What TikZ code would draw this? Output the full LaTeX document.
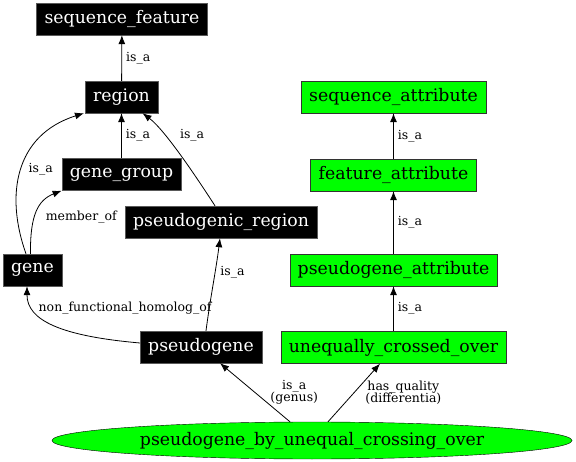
\documentclass[tikz,border=0pt]{standalone}
\usepackage{fontspec}
\setmainfont{DejaVu Serif}
\usepackage{tikz}
\usetikzlibrary{arrows.meta,shapes.geometric}

\begin{document}
\begin{tikzpicture}[x=1pt, y=-1pt,
		term/.style={rectangle, fill=black, draw=black!65, text=white, minimum height=32pt, inner xsep=8pt, inner ysep=0pt, font=\fontsize{17.3}{20}\selectfont},
		attr/.style={term, fill=green, draw=black!80, text=black},
		rel/.style={-{Latex[length=9pt, width=7pt]}, line width=0.8pt},
		lbl/.style={inner sep=1pt, font=\fontsize{12.5}{12.5}\selectfont, align=center}]
				\useasboundingbox (0,0) rectangle (576,462);
				% terms
				\node[term] (seqfeat) at (122,19) {sequence\_feature};
				\node[term] (region) at (121.5,97) {region};
				\node[term] (genegroup) at (121.5,174.5) {gene\_group};
				\node[term] (pseudoregion) at (221,222) {pseudogenic\_region};
				\node[term] (gene) at (32.5,270) {gene};
				\node[term] (pseudogene) at (201,347) {pseudogene};
				% attributes
				\node[attr] (seqattr) at (393.5,97) {sequence\_attribute};
				\node[attr] (featattr) at (393.5,175) {feature\_attribute};
				\node[attr] (pseudoattr) at (393.5,270) {pseudogene\_attribute};
				\node[attr] (unequal) at (393.5,347.5) {unequally\_crossed\_over};
				\node[ellipse, fill=green, draw=black, minimum width=520pt, minimum height=37pt, inner sep=0pt, font=\fontsize{17.3}{20}\selectfont] (bycross) at (312,440.5) {pseudogene\_by\_unequal\_crossing\_over};
				
				% is_a chains
				\draw[rel] (region) -- (seqfeat) node[lbl, midway, right=3pt]{is\_a};
				\draw[rel] (genegroup) -- (region) node[lbl, midway, right=3pt]{is\_a};
				\draw[rel] (featattr) -- (seqattr) node[lbl, midway, right=3pt]{is\_a};
				\draw[rel] (pseudoattr) -- (featattr) node[lbl, midway, right=3pt]{is\_a};
				\draw[rel] (unequal) -- (pseudoattr) node[lbl, midway, right=3pt]{is\_a};
				\draw[rel] ([xshift=-6pt]pseudoregion.north) .. controls (197,178) and (165,130) .. ([xshift=21pt]region.south) node[lbl, pos=0.7, right=14pt]{is\_a};
				\draw[rel] ([xshift=-6.5pt]gene.north) .. controls (5,195) and (15,135) .. ([xshift=-1pt]region.south west) node[lbl, pos=0.5, right=6pt]{is\_a};
				\draw[rel] ([xshift=-2pt]gene.north) .. controls (30,215) and (38,200) .. (genegroup.south west) node[lbl, pos=0.4, right=10pt]{member\_of};
				\draw[rel] ([yshift=4pt]pseudogene.west) .. controls (60,336) and (27,320) .. ([xshift=-5.5pt]gene.south) node[lbl, pos=0.7, anchor=west, xshift=1pt, yshift=4pt]{non\_functional\_homolog\_of};
				\draw[rel] ([xshift=5pt]pseudogene.north) .. controls (210,300) and (216,270) .. ([xshift=-1pt]pseudoregion.south) node[lbl, pos=0.64, right=4pt]{is\_a};
				
				% genus and differentia
				\draw[rel] ([xshift=-22pt]bycross.north) -- ([xshift=19pt]pseudogene.south) node[lbl, midway, right=14pt]{is\_a\\(genus)};
				\draw[rel] ([xshift=16pt]bycross.north) -- ([xshift=-13.5pt]unequal.south) node[lbl, midway, right=10pt]{has\_quality\\(differentia)};
			\end{tikzpicture}
\end{document}
